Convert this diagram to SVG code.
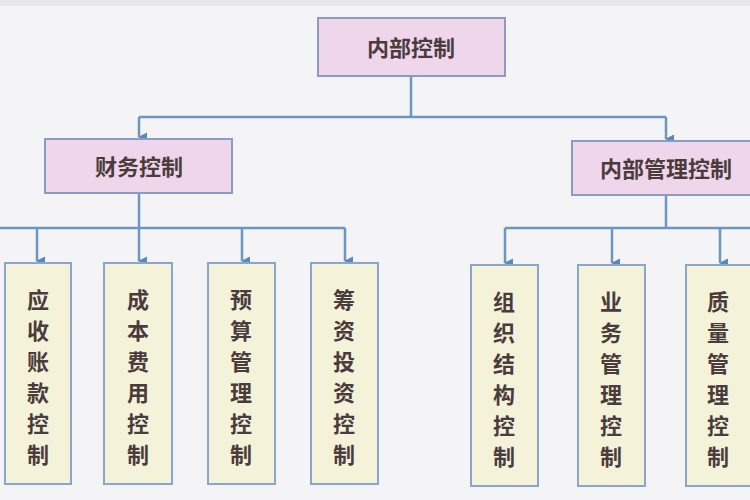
<svg xmlns="http://www.w3.org/2000/svg" width="750" height="500" viewBox="0 0 750 500">
<defs>
<marker id="ah" viewBox="0 0 10 10" refX="5" refY="9" markerWidth="10" markerHeight="9" orient="auto-start-reverse" markerUnits="userSpaceOnUse">
<path d="M0,0 L10,0 L5,10 Z" fill="#5a88b8"/>
</marker>
<style>
.top{fill:#efd6ea;stroke:#8a9cc4;stroke-width:2}
.leaf{fill:#f5f2da;stroke:#8aa6cc;stroke-width:2}
.t{font-family:"Noto Sans CJK SC",sans-serif;font-weight:bold;fill:#4a3c3c;text-anchor:middle}
.c{stroke:#6a96c0;stroke-width:2.5;fill:none}
</style>
</defs>
<rect width="750" height="500" fill="#f4f4f6"/>
<rect width="750" height="6" fill="#e8e8ea"/>
<g id="connectors">
<path class="c" d="M411,76 V117 M139,117 H666"/>
<path class="c" d="M139,117 V137" marker-end="url(#ah)"/>
<path class="c" d="M666,117 V139" marker-end="url(#ah)"/>
<path class="c" d="M139,193 V228 M0,228 H345"/>
<path class="c" d="M37,228 V261" marker-end="url(#ah)"/>
<path class="c" d="M139,228 V261" marker-end="url(#ah)"/>
<path class="c" d="M242,228 V261" marker-end="url(#ah)"/>
<path class="c" d="M345,228 V261" marker-end="url(#ah)"/>
<path class="c" d="M666,195 V228 M505,228 H750"/>
<path class="c" d="M505,228 V263" marker-end="url(#ah)"/>
<path class="c" d="M612,228 V263" marker-end="url(#ah)"/>
<path class="c" d="M720,228 V263" marker-end="url(#ah)"/>
</g>
<g id="root"><rect class="top" x="318" y="18" width="187" height="58"/><text class="t" x="411" y="56" font-size="22">内部控制</text></g>
<g id="finance"><rect class="top" x="45" y="139" width="187" height="54"/><text class="t" x="139" y="175" font-size="22">财务控制</text></g>
<g id="mgmt"><rect class="top" x="572" y="141" width="190" height="54"/><text class="t" x="666" y="177" font-size="22">内部管理控制</text></g>
<g id="l1"><rect class="leaf" x="5" y="263" width="66" height="221"/><text class="t" font-size="22"><tspan x="38" y="308">应</tspan><tspan x="38" y="339">收</tspan><tspan x="38" y="370">账</tspan><tspan x="38" y="401">款</tspan><tspan x="38" y="432">控</tspan><tspan x="38" y="463">制</tspan></text></g>
<g id="l2"><rect class="leaf" x="104" y="263" width="68" height="221"/><text class="t" font-size="22"><tspan x="138" y="308">成</tspan><tspan x="138" y="339">本</tspan><tspan x="138" y="370">费</tspan><tspan x="138" y="401">用</tspan><tspan x="138" y="432">控</tspan><tspan x="138" y="463">制</tspan></text></g>
<g id="l3"><rect class="leaf" x="208" y="263" width="67" height="221"/><text class="t" font-size="22"><tspan x="241" y="308">预</tspan><tspan x="241" y="339">算</tspan><tspan x="241" y="370">管</tspan><tspan x="241" y="401">理</tspan><tspan x="241" y="432">控</tspan><tspan x="241" y="463">制</tspan></text></g>
<g id="l4"><rect class="leaf" x="311" y="263" width="67" height="221"/><text class="t" font-size="22"><tspan x="344" y="308">筹</tspan><tspan x="344" y="339">资</tspan><tspan x="344" y="370">投</tspan><tspan x="344" y="401">资</tspan><tspan x="344" y="432">控</tspan><tspan x="344" y="463">制</tspan></text></g>
<g id="r1"><rect class="leaf" x="471" y="265" width="67" height="221"/><text class="t" font-size="22"><tspan x="504" y="310">组</tspan><tspan x="504" y="341">织</tspan><tspan x="504" y="372">结</tspan><tspan x="504" y="403">构</tspan><tspan x="504" y="434">控</tspan><tspan x="504" y="465">制</tspan></text></g>
<g id="r2"><rect class="leaf" x="578" y="265" width="67" height="221"/><text class="t" font-size="22"><tspan x="611" y="310">业</tspan><tspan x="611" y="341">务</tspan><tspan x="611" y="372">管</tspan><tspan x="611" y="403">理</tspan><tspan x="611" y="434">控</tspan><tspan x="611" y="465">制</tspan></text></g>
<g id="r3"><rect class="leaf" x="686" y="265" width="70" height="221"/><text class="t" font-size="22"><tspan x="718" y="310">质</tspan><tspan x="718" y="341">量</tspan><tspan x="718" y="372">管</tspan><tspan x="718" y="403">理</tspan><tspan x="718" y="434">控</tspan><tspan x="718" y="465">制</tspan></text></g>
</svg>
